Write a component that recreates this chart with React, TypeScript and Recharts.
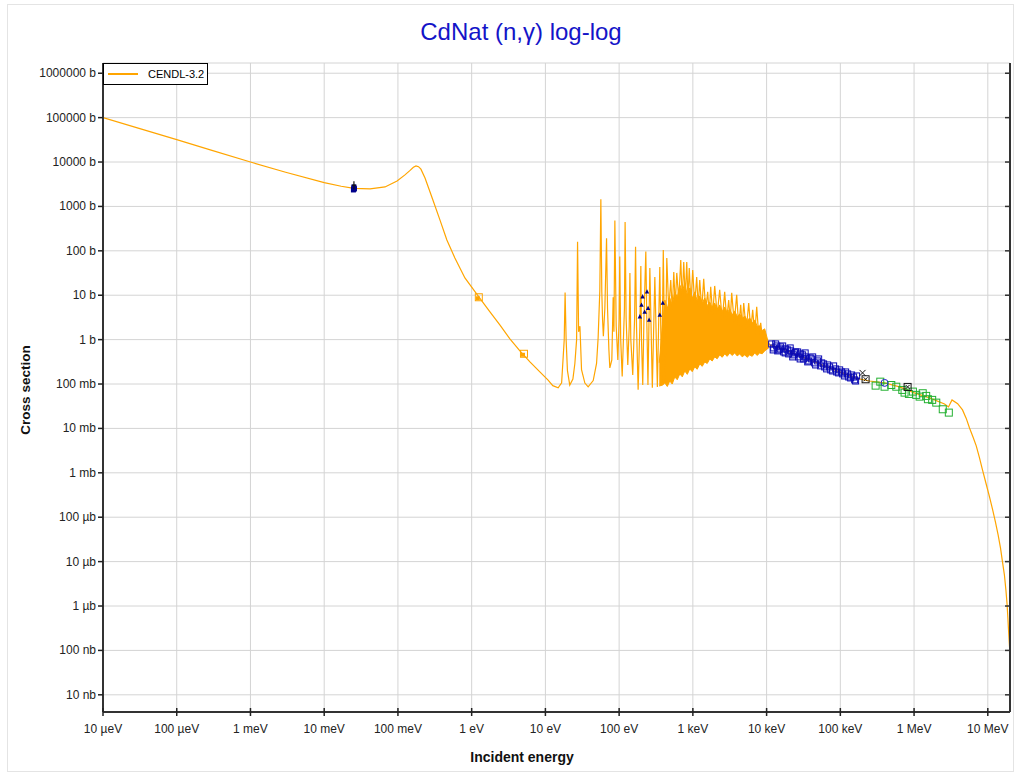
import React from "react";
import {
  ComposedChart,
  Line,
  Area,
  Scatter,
  XAxis,
  YAxis,
  CartesianGrid,
  Legend,
} from "recharts";

const W = 1020;
const H = 773;

const xMin = 1e-5;
const xMax = 2e7;
const yMin = 4.1e-9;
const yMax = 1.7e6;

const xTicks = [1e-5, 1e-4, 1e-3, 1e-2, 1e-1, 1, 10, 100, 1e3, 1e4, 1e5, 1e6, 1e7];
const xTickLabels = [
  "10 µeV", "100 µeV", "1 meV", "10 meV", "100 meV", "1 eV", "10 eV",
  "100 eV", "1 keV", "10 keV", "100 keV", "1 MeV", "10 MeV",
];
const yTicks = [1e-8, 1e-7, 1e-6, 1e-5, 1e-4, 1e-3, 1e-2, 1e-1, 1, 10, 100, 1e3, 1e4, 1e5, 1e6];
const yTickLabels = [
  "10 nb", "100 nb", "1 µb", "10 µb", "100 µb", "1 mb", "10 mb", "100 mb",
  "1 b", "10 b", "100 b", "1000 b", "10000 b", "100000 b", "1000000 b",
];

// CENDL-3.2 evaluation, [energy (eV), cross section (b)]
const cendlThermal: [number, number][] = [
  [1e-5, 1.0e5], [3e-5, 5.8e4], [1e-4, 3.2e4], [3e-4, 1.83e4], [1e-3, 1.0e4],
  [3e-3, 5.9e3], [1e-2, 3.45e3], [1.7e-2, 2.85e3], [2.53e-2, 2.55e3], [0.0419, 2480],
  [0.0668, 2750], [0.0973, 3750], [0.1245, 5130], [0.145, 6400], [0.162, 7600],
  [0.176, 8170], [0.19, 7850], [0.205, 6900], [0.233, 4380], [0.265, 2400],
  [0.298, 1400], [0.371, 497], [0.461, 176], [0.592, 69], [0.81, 24.5], [1.25, 9.2],
  [1.77, 4.2], [2.41, 2.14], [3.3, 1.04], [4.51, 0.557], [6.17, 0.315], [8.41, 0.187],
  [10.8, 0.124], [12.6, 0.092], [14.9, 0.082],
];

const cendlResolved: [number, number][] = [
  [16.6, 0.106], [18.0, 1.0], [18.5, 11.5], [19.1, 1.0], [19.9, 0.2], [21.4, 0.095],
  [23.6, 0.13], [25.1, 0.29], [26.5, 1.0], [27.3, 161], [28.2, 1.5], [29.4, 2.0],
  [30.9, 0.21], [34.3, 0.105], [38.0, 0.086], [44.5, 0.12], [49.4, 0.29], [51.9, 1.1],
  [54.7, 12.6], [56.5, 1450], [58.2, 12], [59.6, 2.8], [61.1, 1.2], [64, 5],
  [67.5, 192], [69.6, 5], [72.6, 0.6], [74.8, 0.23], [79.6, 0.35], [83, 9], [85, 1.5],
  [87.5, 479], [91.2, 2], [96, 0.35], [100, 3], [102, 74], [105, 1], [110, 0.147],
  [118, 5], [120.5, 447], [124.4, 3], [131, 0.27], [137, 2], [140, 31.8], [144, 1],
  [153, 0.16], [162, 3], [167, 124], [172, 2], [181, 0.074], [191, 2], [197, 45.7],
  [201, 1], [209, 0.095], [217, 3], [230, 96], [238, 2], [246, 0.095],
];

const cendlDense: [number, number][] = [
  [261, 41], [282, 0.082], [305, 25.8], [330, 0.086], [356, 43.4], [377, 0.1],
  [397, 105], [419, 0.111], [443, 69], [471, 4.67], [501, 22], [526, 4.67],
  [551, 33.5], [577, 6.05], [605, 31.8], [644, 7.8], [685, 62], [718, 7.8],
  [752, 56], [789, 8.7], [826, 56], [859, 7.8], [893, 41], [942, 6.7], [995, 37],
  [1059, 6.05], [1127, 25.8], [1183, 5.46], [1239, 22], [1318, 4.67], [1403, 23.3],
  [1493, 4.67], [1589, 11.9], [1667, 3.6], [1745, 15.4], [1858, 3.6], [1977, 16.2],
  [2138, 3.6], [2311, 13.2], [2500, 2.78], [2702, 11.9], [2877, 2.78], [3060, 7.8],
  [3212, 2.78], [3364, 11.3], [3640, 2.38], [3930, 10.2], [4188, 1.93], [4454, 6.05],
  [4670, 1.93], [4894, 6.7], [5292, 1.65], [5718, 6.7], [6096, 1.65], [6478, 4.67],
  [6890, 1.28], [7343, 5.46], [7805, 1.28], [8318, 2.38], [8840, 0.98], [10020, 0.98],
];

const cendlFast: [number, number][] = [
  [1.1e4, 0.76], [1.76e4, 0.59], [2.81e4, 0.43], [4.49e4, 0.315], [7.16e4, 0.23],
  [1.15e5, 0.169], [1.66e5, 0.134], [2.49e5, 0.117], [3.98e5, 0.106], [6.36e5, 0.086],
  [1.01e6, 0.063], [1.62e6, 0.0487], [2.59e6, 0.0356], [2.93e6, 0.0305], [3.27e6, 0.0439],
  [3.9e6, 0.036], [4.54e6, 0.0261], [5.1e6, 0.0168], [5.65e6, 0.0102], [6.3e6, 6.4e-3],
  [6.97e6, 4.04e-3], [7.7e6, 2.2e-3], [8.47e6, 1.16e-3], [9.5e6, 5.6e-4],
  [1.055e7, 2.86e-4], [1.16e7, 1.5e-4], [1.27e7, 7.8e-5], [1.38e7, 4.0e-5],
  [1.486e7, 2.03e-5], [1.58e7, 1.0e-5], [1.68e7, 5.0e-6], [1.76e7, 2.3e-6],
  [1.82e7, 1.17e-6], [1.87e7, 5.6e-7], [1.91e7, 2.9e-7], [1.96e7, 1.4e-7], [2.0e7, 8e-8],
];

// dense band of overlapping resonances (low / high envelope)
const bandE = [
  350, 390, 417, 450, 486, 525, 568, 614, 665, 719, 777, 840, 908, 980, 1059, 1145,
  1239, 1340, 1448, 1565, 1693, 1830, 1977, 2137, 2311, 2500, 2702, 2922, 3160, 3415,
  3692, 3992, 4316, 4666, 5045, 5454, 5895, 6373, 6890, 7450, 8054, 8708, 9415, 10670,
];
const bandLow = [
  0.09, 0.095, 0.106, 0.088, 0.117, 0.1, 0.144, 0.125, 0.169, 0.145, 0.197, 0.165,
  0.219, 0.19, 0.243, 0.215, 0.284, 0.25, 0.315, 0.29, 0.367, 0.33, 0.408, 0.37,
  0.453, 0.4, 0.477, 0.42, 0.5, 0.44, 0.5, 0.43, 0.477, 0.41, 0.453, 0.4, 0.453,
  0.42, 0.5, 0.44, 0.5, 0.48, 0.557, 0.65,
];
const bandHigh = [
  0.3, 2.5, 7.8, 5, 8.7, 6, 11.9, 9, 17.1, 12, 18.9, 10, 14.6, 8.5, 11.9, 7.5, 9.6,
  6.5, 8.7, 5.8, 7.06, 5.2, 6.7, 4.6, 6.05, 4.3, 5.46, 4.0, 4.92, 3.6, 4.43, 3.3,
  3.79, 2.9, 3.42, 2.7, 3.08, 2.4, 2.78, 2.0, 2.04, 1.6, 1.75, 0.8,
];

// experimental points
const thermalExp: [number, number][] = [
  [0.0253, 2450], [0.0253, 2600], [0.0249, 2350], [0.0257, 2500], [0.0253, 2750],
];
const thermalCross: [number, number][] = [[0.0253, 3000]];
const orangeExp: [number, number][] = [[1.25, 9.0], [5.12, 0.48]];
const triExp: [number, number][] = [
  [191, 3.3], [201, 6.05], [208, 9.3], [239, 12], [247, 5.1], [255, 2.78],
  [222, 4.2], [356, 3.6], [391, 6.7],
];
const blueSqExpA: [number, number][] = [
  [11720, 0.8], [12470, 0.65], [13700, 0.72], [14580, 0.586], [15520, 0.685],
  [17060, 0.528], [18150, 0.618], [19910, 0.477], [21190, 0.557], [23280, 0.453],
  [24770, 0.528], [27210, 0.408], [28950, 0.477], [31770, 0.367], [33810, 0.408],
  [37150, 0.331], [40800, 0.367], [44780, 0.299], [49200, 0.331], [54040, 0.256],
  [59340, 0.284], [65170, 0.219], [71570, 0.243], [78600, 0.197], [86330, 0.219],
  [94800, 0.178], [104100, 0.187], [114300, 0.152], [125600, 0.169], [137900, 0.137],
  [151400, 0.144], [161100, 0.117],
];
const blueSqExpB: [number, number][] = [
  [12270, 0.586], [13280, 0.8], [14130, 0.557], [15280, 0.618], [16520, 0.72],
  [17870, 0.502], [19320, 0.586], [20890, 0.65], [22590, 0.408], [24040, 0.502],
  [26380, 0.528], [28510, 0.367], [30830, 0.453], [33340, 0.502], [36050, 0.315],
  [38980, 0.387], [42150, 0.408], [46240, 0.269], [50810, 0.367], [55850, 0.299],
  [61240, 0.243], [67300, 0.269], [73960, 0.208], [81100, 0.256], [89130, 0.187],
  [97950, 0.208], [107400, 0.169], [118000, 0.187], [129700, 0.144], [142200, 0.16],
  [156300, 0.124], [166300, 0.152],
];
const blackXExp: [number, number][] = [[2.0e5, 0.178]];
const blackSqXExp: [number, number][] = [[2.2e5, 0.128], [8.17e5, 0.086]];
const blueCircleExp: [number, number][] = [[3.98e5, 0.106]];
const greenSqExp: [number, number][] = [
  [3.01e5, 0.092], [3.48e5, 0.113], [3.98e5, 0.087], [4.91e5, 0.095], [5.74e5, 0.087],
  [6.92e5, 0.0736], [7.43e5, 0.064], [8.51e5, 0.0598], [9.64e5, 0.0675], [1.07e6, 0.0569],
  [1.19e6, 0.052], [1.31e6, 0.062], [1.46e6, 0.054], [1.54e6, 0.0455], [1.76e6, 0.0439],
  [2.0e6, 0.0381], [2.45e6, 0.027], [2.96e6, 0.0227],
];

const toPts = (arr: [number, number][]) => arr.map(([e, s]) => ({ e, s }));
const cendl = toPts([...cendlThermal, ...cendlResolved, ...cendlDense, ...cendlFast]);
const band = bandE.map((e, i) => ({ e, range: [bandLow[i], bandHigh[i]] }));

const ORANGE = "#ffa500";
const FONT = '"Liberation Sans", Arial, Helvetica, sans-serif';

const XTick = (props: any) => {
  const { x, y, payload } = props;
  const i = xTicks.indexOf(payload.value);
  return (
    <g>
      <line x1={x} x2={x} y1={y - 4} y2={y + 4} stroke="#222" strokeWidth={1.5} />
      <text x={x} y={y + 21} textAnchor="middle" fontSize={12} fill="#222" fontFamily={FONT}>
        {xTickLabels[i]}
      </text>
    </g>
  );
};

const YTick = (props: any) => {
  const { x, y, payload } = props;
  const i = yTicks.indexOf(payload.value);
  return (
    <g>
      <line x1={x - 5} x2={x} y1={y} y2={y} stroke="#222" strokeWidth={1.5} />
      <text x={x - 7} y={y + 4} textAnchor="end" fontSize={12} fill="#222" fontFamily={FONT}>
        {yTickLabels[i]}
      </text>
    </g>
  );
};

const RightTick = (props: any) => {
  const { x, y } = props;
  return <line x1={x - 5} x2={x} y1={y} y2={y} stroke="#333" strokeWidth={1.5} />;
};

const hollowSquare = (color: string, size: number) => (p: any) => {
  const h = size / 2;
  return (
    <rect x={p.cx - h} y={p.cy - h} width={size} height={size} fill="none" stroke={color} strokeWidth={1} />
  );
};

const filledSquare = (color: string, size: number) => (p: any) => {
  const h = size / 2;
  return <rect x={p.cx - h} y={p.cy - h} width={size} height={size} fill={color} />;
};

const orangeMark = (p: any) => (
  <g>
    <rect x={p.cx - 3.5} y={p.cy - 3.5} width={7} height={7} fill="none" stroke={ORANGE} strokeWidth={1} />
    <rect x={p.cx - 3} y={p.cy - 1} width={4} height={4} fill={ORANGE} />
  </g>
);

const triangle = (color: string) => (p: any) => (
  <path d={`M${p.cx},${p.cy - 2.5} L${p.cx + 2.2},${p.cy + 1.8} L${p.cx - 2.2},${p.cy + 1.8} Z`} fill={color} />
);

const plusMark = (p: any) => (
  <g stroke="#111" strokeWidth={1.2}>
    <line x1={p.cx} x2={p.cx} y1={p.cy - 4} y2={p.cy + 4} />
    <line x1={p.cx - 2} x2={p.cx + 2} y1={p.cy} y2={p.cy} />
  </g>
);

const xMark = (p: any) => (
  <g stroke="#111" strokeWidth={1}>
    <line x1={p.cx - 3} x2={p.cx + 3} y1={p.cy - 3} y2={p.cy + 3} />
    <line x1={p.cx - 3} x2={p.cx + 3} y1={p.cy + 3} y2={p.cy - 3} />
  </g>
);

const sqXMark = (p: any) => (
  <g stroke="#111" strokeWidth={1} fill="none">
    <rect x={p.cx - 3.5} y={p.cy - 3.5} width={7} height={7} />
    <line x1={p.cx - 2} x2={p.cx + 2} y1={p.cy - 2} y2={p.cy + 2} />
    <line x1={p.cx - 2} x2={p.cx + 2} y1={p.cy + 2} y2={p.cy - 2} />
  </g>
);

const circleMark = (p: any) => (
  <circle cx={p.cx} cy={p.cy} r={3.5} fill="none" stroke="#2222cc" strokeWidth={1} />
);

const LegendBox = () => (
  <div
    style={{
      width: 105,
      height: 22,
      border: "1px solid #000",
      background: "#fff",
      boxSizing: "border-box",
      position: "relative",
    }}
  >
    <svg width={105} height={22} style={{ position: "absolute", left: -1, top: -1 }}>
      <line x1={5} x2={35} y1={11} y2={11} stroke={ORANGE} strokeWidth={2} />
      <text x={45} y={15} fontSize={11} fill="#000" fontFamily={FONT}>
        CENDL-3.2
      </text>
    </svg>
  </div>
);

export default function App() {
  return (
    <div
      style={{
        position: "absolute",
        left: 0,
        top: 0,
        width: W,
        height: H,
        background: "#fff",
        fontFamily: FONT,
      }}
    >
      <div
        style={{
          position: "absolute",
          left: 7,
          top: 4,
          width: 1005,
          height: 766,
          border: "1px solid #e4e4e4",
        }}
      />
      <ComposedChart width={W} height={H} margin={{ top: 63, right: 0, bottom: 0, left: 0 }}>
        <CartesianGrid stroke="#d4d4d4" strokeWidth={1} />
        <XAxis
          dataKey="e"
          type="number"
          scale="log"
          domain={[xMin, xMax]}
          ticks={xTicks}
          interval={0}
          allowDataOverflow
          tickSize={0}
          tickMargin={0}
          tick={<XTick />}
          axisLine={{ stroke: "#333", strokeWidth: 2 }}
          height={61}
        />
        <XAxis
          xAxisId="top"
          orientation="top"
          dataKey="e"
          type="number"
          scale="log"
          domain={[xMin, xMax]}
          allowDataOverflow
          tick={false}
          tickLine={false}
          axisLine={{ stroke: "#000", strokeWidth: 1 }}
          height={0}
        />
        <YAxis
          type="number"
          scale="log"
          domain={[yMin, yMax]}
          ticks={yTicks}
          interval={0}
          allowDataOverflow
          tickSize={0}
          tickMargin={0}
          tick={<YTick />}
          axisLine={{ stroke: "#333", strokeWidth: 2 }}
          width={103}
        />
        <YAxis
          yAxisId="r"
          orientation="right"
          type="number"
          scale="log"
          domain={[yMin, yMax]}
          ticks={yTicks}
          interval={0}
          allowDataOverflow
          tickSize={0}
          tickMargin={0}
          tick={<RightTick />}
          axisLine={{ stroke: "#333", strokeWidth: 2 }}
          width={10}
        />
        <Legend
          verticalAlign="middle"
          align="center"
          content={<LegendBox />}
          wrapperStyle={{ left: 103, top: 63, width: 105, height: 22 }}
        />
        <Area
          data={band}
          dataKey="range"
          type="linear"
          stroke={ORANGE}
          strokeWidth={1}
          fill={ORANGE}
          fillOpacity={1}
          legendType="none"
          isAnimationActive={false}
        />
        <Scatter data={toPts(thermalExp)} dataKey="s" shape={filledSquare("#00008b", 5)} legendType="none" isAnimationActive={false} />
        <Scatter data={toPts(thermalCross)} dataKey="s" shape={plusMark} legendType="none" isAnimationActive={false} />
        <Scatter data={toPts(orangeExp)} dataKey="s" shape={orangeMark} legendType="none" isAnimationActive={false} />
        <Scatter data={toPts(triExp)} dataKey="s" shape={triangle("#000080")} legendType="none" isAnimationActive={false} />
        <Scatter data={toPts(blueSqExpA)} dataKey="s" shape={hollowSquare("#0a0ab4", 6)} legendType="none" isAnimationActive={false} />
        <Scatter data={toPts(blueSqExpB)} dataKey="s" shape={hollowSquare("#0a0ab4", 6)} legendType="none" isAnimationActive={false} />
        <Scatter data={toPts(greenSqExp)} dataKey="s" shape={hollowSquare("#22b030", 7)} legendType="none" isAnimationActive={false} />
        <Scatter data={toPts(blueCircleExp)} dataKey="s" shape={circleMark} legendType="none" isAnimationActive={false} />
        <Scatter data={toPts(blackXExp)} dataKey="s" shape={xMark} legendType="none" isAnimationActive={false} />
        <Scatter data={toPts(blackSqXExp)} dataKey="s" shape={sqXMark} legendType="none" isAnimationActive={false} />
        <Line
          data={cendl}
          dataKey="s"
          name="CENDL-3.2"
          type="linear"
          stroke={ORANGE}
          strokeWidth={1.2}
          dot={false}
          isAnimationActive={false}
        />
      </ComposedChart>
      <svg
        width={W}
        height={H}
        style={{ position: "absolute", left: 0, top: 0, pointerEvents: "none" }}
      >
        <text x={521} y={40} textAnchor="middle" fontSize={24} fill="#1414c8" fontFamily={FONT}>
          CdNat (n,γ) log-log
        </text>
        <text x={522} y={762} textAnchor="middle" fontSize={14} fontWeight="bold" fill="#111" fontFamily={FONT}>
          Incident energy
        </text>
        <text
          transform="translate(30,390) rotate(-90)"
          textAnchor="middle"
          fontSize={13.5}
          fontWeight="bold"
          fill="#111"
          fontFamily={FONT}
        >
          Cross section
        </text>
      </svg>
    </div>
  );
}
